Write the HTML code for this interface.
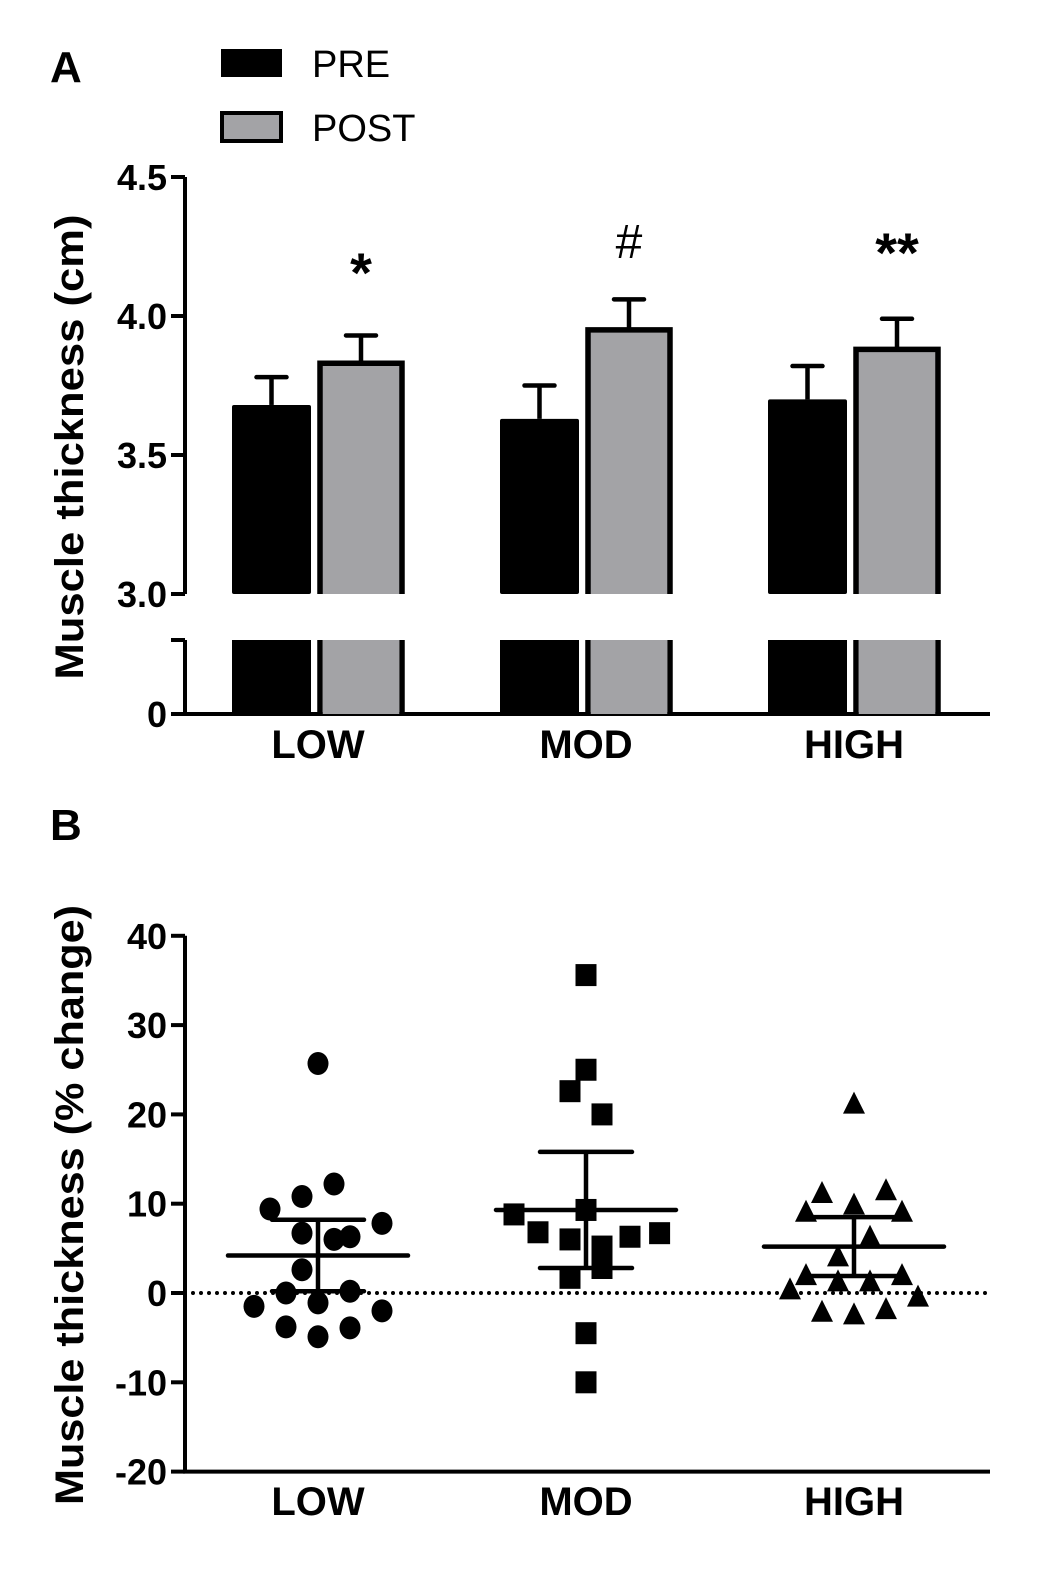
<!DOCTYPE html>
<html><head><meta charset="utf-8"><style>
html,body{margin:0;padding:0;background:#fff;}
svg{display:block;font-family:"Liberation Sans",Arial,sans-serif;}
.t{font-weight:bold;font-size:36px;}
</style></head><body>
<svg id="fig" width="1063" height="1571" viewBox="0 0 1063 1571">
<g id="A"></g>
<g id="B"></g>
</svg>
<script>
const categories=["LOW","MOD","HIGH"];
const preMeans=[3.68,3.63,3.70];
const preErr=[0.10,0.12,0.12];
const postMeans=[3.83,3.95,3.88];
const postErr=[0.10,0.11,0.11];
const annotations=["*","#","**"];
const aTicks=[3.0,3.5,4.0,4.5];
const aTickLabels=["3.0","3.5","4.0","4.5"];

const lowVals=[25.7,12.2,10.8,9.4,7.8,6.7,6.0,6.3,2.6,0,0.2,-1.1,-1.5,-3.8,-4.9,-3.9,-2.0];
const lowJit=[0,1,-1,-3,4,-1,1,2,-1,-2,2,0,-4,-2,0,2,4];
const modVals=[35.6,25,22.6,20,8.8,9.3,6.8,6.0,5.2,6.3,6.7,2.8,1.7,-4.5,-10];
const modJit=[0,0,-1,1,-4.5,0,-3,-1,1,2.75,4.6,1,-1,0,0];
const highVals=[21.2,11.2,11.5,9.1,9.9,9.1,6.3,4.1,2.0,1.3,1.3,2.0,0.4,-0.4,-2.1,-2.4,-1.8];
const highJit=[0,-2,2,-3,0,3,1,-1,-3,-1,1,3,-4,4,-2,0,2];
const groupMeans=[4.2,9.3,5.2];
const groupSem=[4.0,6.5,3.3];
const bTicks=[-20,-10,0,10,20,30,40];

const NS="http://www.w3.org/2000/svg";
function mk(parent,tag,attrs,text){const e=document.createElementNS(NS,tag);for(const k in attrs)e.setAttribute(k,attrs[k]);if(text!==undefined)e.textContent=text;parent.appendChild(e);return e;}
const A=document.getElementById('A'),B=document.getElementById('B');
const AX=185,XR=990;
const xc=i=>318+i*268;
const yA=v=>594-(v-3)*278;
const yA0=714;

let e;
e=mk(A,'text',{x:50,y:82,'font-size':44,'font-weight':'bold'},'A');

e=mk(A,'rect',{x:221,y:49,width:61,height:28,fill:'#000'});

e=mk(A,'text',{x:312,y:77,'font-size':38},'PRE');

e=mk(A,'rect',{x:222,y:113,width:59,height:28,fill:'#a3a3a6',stroke:'#000','stroke-width':4});

e=mk(A,'text',{x:312,y:141,'font-size':38},'POST');

e=mk(A,'text',{x:0,y:0,'font-size':40,'font-weight':'bold','text-anchor':'middle',textLength:465,lengthAdjust:'spacingAndGlyphs',transform:'translate(83,447) rotate(-90)'},'Muscle thickness (cm)');

e=mk(A,'path',{d:`M${AX} ${yA(4.5)} V${yA(3)} M${AX} 640 V${yA0} H${XR}`,stroke:'#000','stroke-width':4,fill:'none'});

aTicks.forEach((t,i)=>{
  e=mk(A,'line',{x1:AX-14,x2:AX,y1:yA(t),y2:yA(t),stroke:'#000','stroke-width':4});
  
  e=mk(A,'text',{x:AX-18,y:yA(t)+13,'text-anchor':'end',class:'t'},aTickLabels[i]);
  
});
e=mk(A,'line',{x1:AX-14,x2:AX,y1:640,y2:640,stroke:'#000','stroke-width':4});

e=mk(A,'line',{x1:AX-14,x2:AX,y1:yA0,y2:yA0,stroke:'#000','stroke-width':4});

e=mk(A,'text',{x:AX-18,y:yA0+13,'text-anchor':'end',class:'t'},'0');

categories.forEach((c,i)=>{
  const cx=xc(i);
  const px=cx-86,pw=79;
  e=mk(A,'line',{x1:px+pw/2,x2:px+pw/2,y1:yA(preMeans[i]+preErr[i]),y2:yA(preMeans[i]),stroke:'#000','stroke-width':4.5});
  
  e=mk(A,'line',{x1:px+pw/2-15,x2:px+pw/2+15,y1:yA(preMeans[i]+preErr[i]),y2:yA(preMeans[i]+preErr[i]),stroke:'#000','stroke-width':4.5,'stroke-linecap':'round'});
  
  e=mk(A,'rect',{x:px,y:yA(preMeans[i]),width:pw,height:yA(3)-yA(preMeans[i]),fill:'#000',rx:2});
  
  e=mk(A,'rect',{x:px,y:640,width:pw,height:yA0-640,fill:'#000'});
  
  const qx=cx+2,qw=82;
  e=mk(A,'line',{x1:qx+qw/2,x2:qx+qw/2,y1:yA(postMeans[i]+postErr[i]),y2:yA(postMeans[i]),stroke:'#000','stroke-width':4.5});
  
  e=mk(A,'line',{x1:qx+qw/2-15,x2:qx+qw/2+15,y1:yA(postMeans[i]+postErr[i]),y2:yA(postMeans[i]+postErr[i]),stroke:'#000','stroke-width':4.5,'stroke-linecap':'round'});
  
  e=mk(A,'path',{d:`M${qx} ${yA(3)} V${yA(postMeans[i])} H${qx+qw} V${yA(3)}`,fill:'#a3a3a6',stroke:'#000','stroke-width':5.5});
  
  e=mk(A,'path',{d:`M${qx} ${yA0} V640 M${qx+qw} 640 V${yA0}`,fill:'none',stroke:'#000','stroke-width':5.5});
  
  e=mk(A,'rect',{x:qx+2.75,y:640,width:qw-5.5,height:yA0-640,fill:'#a3a3a6'});
  
  const isHash=annotations[i]==='#';
  const ay=annotations[i]==='*'?292:(isHash?258:272);
  e=mk(A,'text',{x:qx+qw/2,y:ay,'text-anchor':'middle','font-size':isHash?48:56,'font-weight':isHash?'normal':'bold'},annotations[i]);
  
  e=mk(A,'text',{x:cx,y:758,'text-anchor':'middle','font-size':40,'font-weight':'bold'},c);
  
});

const yB=v=>1293-v*8.93;
e=mk(B,'text',{x:50,y:840,'font-size':44,'font-weight':'bold'},'B');

e=mk(B,'text',{x:0,y:0,'font-size':40,'font-weight':'bold','text-anchor':'middle',textLength:600,lengthAdjust:'spacingAndGlyphs',transform:'translate(83,1205) rotate(-90)'},'Muscle thickness (% change)');

e=mk(B,'path',{d:`M${AX} ${yB(40)} V${yB(-20)} H${XR}`,stroke:'#000','stroke-width':4,fill:'none'});

bTicks.forEach(t=>{
  e=mk(B,'line',{x1:AX-14,x2:AX,y1:yB(t),y2:yB(t),stroke:'#000','stroke-width':4});
  
  e=mk(B,'text',{x:AX-18,y:yB(t)+13,'text-anchor':'end',class:'t'},String(t));
  
});
e=mk(B,'line',{x1:AX,x2:XR,y1:yB(0),y2:yB(0),stroke:'#000','stroke-width':4,'stroke-dasharray':'0 8','stroke-linecap':'round'});

const series=[lowVals,modVals,highVals],jits=[lowJit,modJit,highJit];
series.forEach((vals,g)=>{
  const cx=xc(g);
  vals.forEach((v,k)=>{
    const x=cx+jits[g][k]*16,y=yB(v);
    let m;
    if(g===0)m=mk(B,'ellipse',{cx:x,cy:y,rx:10.5,ry:11.5,fill:'#000'});
    else if(g===1)m=mk(B,'rect',{x:x-10.5,y:y-11,width:21,height:22,fill:'#000'});
    else m=mk(B,'path',{d:`M${x} ${y-12} L${x+11} ${y+10} L${x-11} ${y+10}Z`,fill:'#000'});
    
    
  });
  const mY=yB(groupMeans[g]),hi=yB(groupMeans[g]+groupSem[g]),lo=yB(groupMeans[g]-groupSem[g]);
  e=mk(B,'line',{x1:cx-90,x2:cx+90,y1:mY,y2:mY,stroke:'#000','stroke-width':4.5,'stroke-linecap':'round'});
  
  e=mk(B,'path',{d:`M${cx-46} ${hi} H${cx+46} M${cx} ${hi} V${lo} M${cx-46} ${lo} H${cx+46}`,stroke:'#000','stroke-width':4.5,'stroke-linecap':'round',fill:'none'});
  
  e=mk(B,'text',{x:cx,y:1515,'text-anchor':'middle','font-size':40,'font-weight':'bold'},categories[g]);
  
});
</script>
</body></html>
